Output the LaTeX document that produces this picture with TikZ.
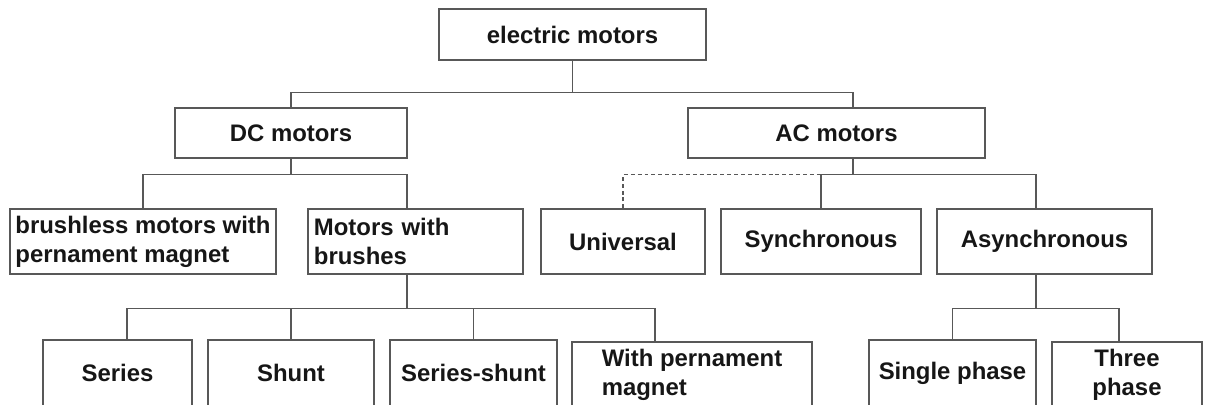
\documentclass[tikz,border=0pt]{standalone}
\usepackage{fontspec}
\setmainfont{Liberation Sans}
\usepackage{tikz}
\definecolor{linegray}{RGB}{88,88,88}
\definecolor{textblack}{RGB}{22,22,22}
\tikzstyle{box}=[draw=linegray, line width=1pt, text=textblack,
  font=\fontsize{17}{20.5}\selectfont\bfseries, inner sep=0pt]
\tikzstyle{link}=[draw=linegray, line width=1pt]
\tikzstyle{maybe}=[link, dash pattern=on 2.8pt off 2.1pt]

\begin{document}
\begin{tikzpicture}[x=0.025cm, y=-0.025cm]
        \useasboundingbox (0,0) rectangle (1208,405);
        \clip (0,0) rectangle (1208,405);
        \node[box, minimum width=6.675cm, minimum height=1.275cm] (motors) at (572.5,34.5) {electric motors};
        \node[box, minimum width=5.8cm, minimum height=1.25cm] (dc) at (291,133) {DC motors};
        \node[box, minimum width=7.425cm, minimum height=1.25cm] (ac) at (836.5,133) {AC motors};
        \node[box, minimum width=6.65cm, minimum height=1.625cm, align=left] (brushless) at (143,241.5) {brushless motors with\\pernament magnet};
        \node[box, text width=5.075cm, inner xsep=0.15cm, minimum height=1.625cm, align=left] (brushes) at (415.5,241.5) {Motors with\\brushes};
        \node[box, minimum width=4.1cm, minimum height=1.625cm] (universal) at (623,241.5) {Universal};
        \node[box, minimum width=5cm, minimum height=1.625cm] (sync) at (821,241.5) {Synchronous};
        \node[box, minimum width=5.375cm, minimum height=1.625cm] (async) at (1044.5,241.5) {Asynchronous};
        \node[box, minimum width=3.725cm, minimum height=1.65cm] (series) at (117.5,373) {Series};
        \node[box, minimum width=4.15cm, minimum height=1.65cm] (shunt) at (291,373) {Shunt};
        \node[box, minimum width=4.175cm, minimum height=1.65cm] (sershunt) at (473.5,373) {Series-shunt};
        \node[box, minimum width=6cm, minimum height=1.65cm, align=left] (magnet) at (692,375) {With pernament\\magnet};
        \node[box, minimum width=4.175cm, minimum height=1.65cm] (single) at (952.5,373) {Single phase};
        \node[box, minimum width=3.75cm, minimum height=1.65cm, align=center] (three) at (1127,375) {Three\\phase};
        \draw[link] (motors.south) -- ++(0,32) coordinate (top);
        \draw[link] (dc.north) |- (top) -| ([xshift=0.41cm]ac.north);
        \draw[link] (dc.south) -- ++(0,16) coordinate (dcfork);
        \draw[link] (brushless.north) |- (dcfork) -| ([xshift=-0.21cm]brushes.north);
        \draw[link] ([xshift=0.41cm]ac.south) -- ++(0,16) coordinate (acfork);
        \draw[link] (sync.north) |- (acfork) -| ([xshift=-0.21cm]async.north);
        \draw[maybe] (universal.north) |- (sync.north |- acfork);
        \draw[link] ([xshift=-0.21cm]brushes.south) -- ++(0,34) coordinate (brfork);
        \draw[link] ([xshift=0.24cm]series.north) |- (brfork) -| ([xshift=-0.925cm]magnet.north);
        \draw[link] (shunt.north) -- (shunt.north |- brfork);
        \draw[link] (sershunt.north) -- (sershunt.north |- brfork);
        \draw[link] ([xshift=-0.21cm]async.south) -- ++(0,34) coordinate (asfork);
        \draw[link] (single.north) |- (asfork) -| ([xshift=-0.2cm]three.north);
\end{tikzpicture}
\end{document}
